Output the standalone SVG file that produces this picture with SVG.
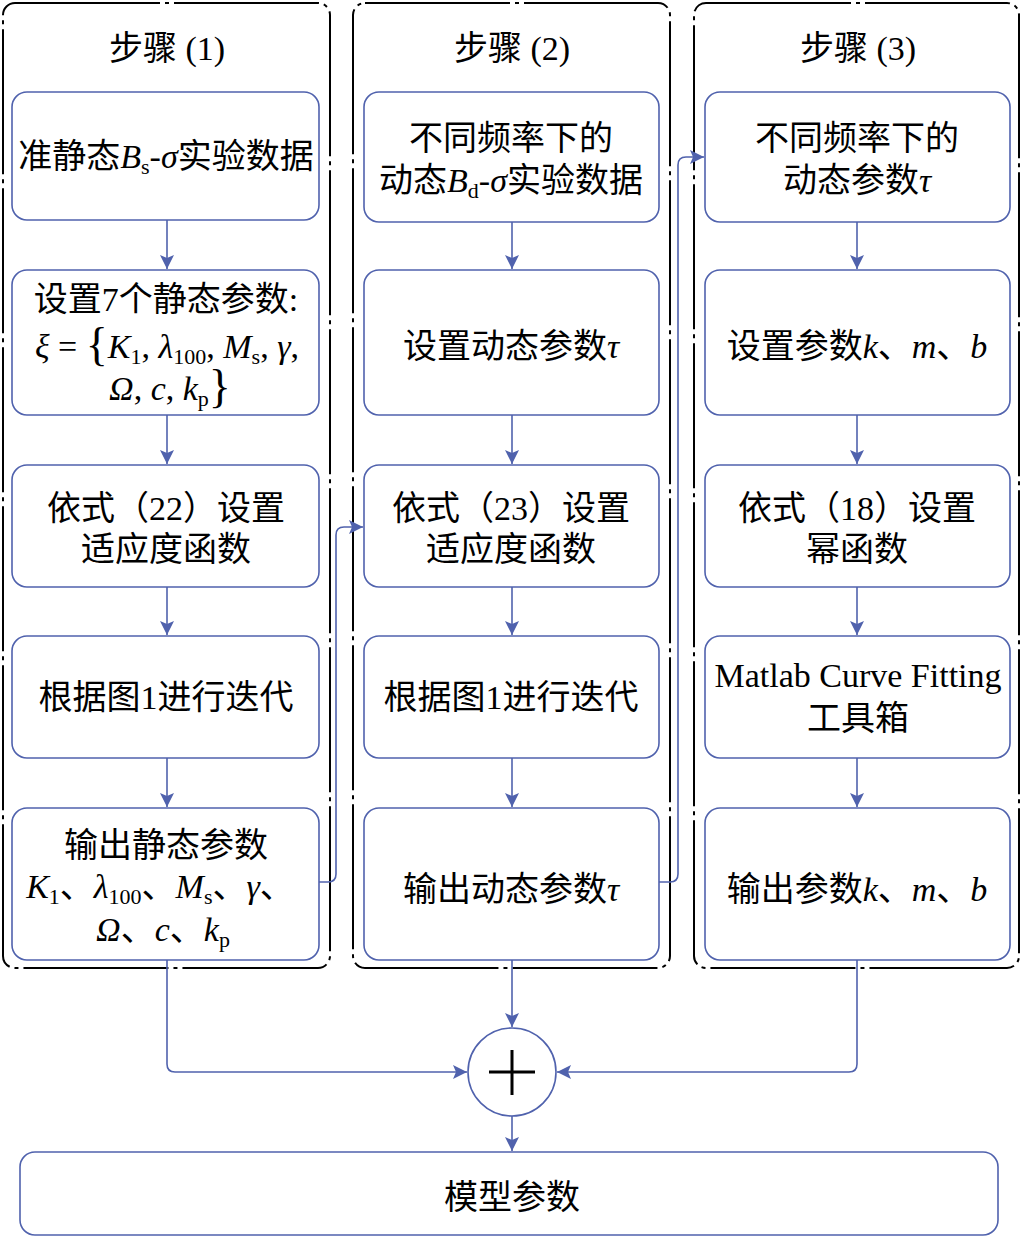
<svg xmlns="http://www.w3.org/2000/svg" width="1023" height="1239" viewBox="0 0 1023 1239">
<style>
.grp{fill:none;stroke:#000;stroke-width:2;stroke-dasharray:145 5 4 5}
.node{fill:#fff;stroke:#5062ad;stroke-width:1.6}
.conn{fill:none;stroke:#5062ad;stroke-width:1.6}
.t{font-family:"Liberation Serif","Noto Sans CJK SC",serif;font-size:34px;text-anchor:middle;fill:#000}
.i{font-style:italic}
.s{font-size:22px}
.b{font-size:46px}
</style>
<defs>
<marker id="ah" markerUnits="userSpaceOnUse" markerWidth="16" markerHeight="16" refX="14" refY="7" orient="auto">
<path d="M0,0 L14,7 L0,14 L3,7 z" fill="#5062ad"/>
</marker>
</defs>
<rect width="1023" height="1239" fill="#fff"/>

<g id="group1"><rect class="grp" x="3" y="3" width="327" height="965" rx="12"/><text class="t" x="167" y="60">步骤 (1)</text></g>
<g id="group2"><rect class="grp" x="353" y="3" width="317" height="965" rx="12"/><text class="t" x="512" y="60">步骤 (2)</text></g>
<g id="group3"><rect class="grp" x="694" y="3" width="325" height="965" rx="12"/><text class="t" x="858" y="60">步骤 (3)</text></g>

<g id="connectors">
<path class="conn" d="M167,220 V269" marker-end="url(#ah)"/>
<path class="conn" d="M167,415 V464" marker-end="url(#ah)"/>
<path class="conn" d="M167,587 V635" marker-end="url(#ah)"/>
<path class="conn" d="M167,758 V807" marker-end="url(#ah)"/>
<path class="conn" d="M512,222 V269" marker-end="url(#ah)"/>
<path class="conn" d="M512,415 V464" marker-end="url(#ah)"/>
<path class="conn" d="M512,587 V635" marker-end="url(#ah)"/>
<path class="conn" d="M512,758 V807" marker-end="url(#ah)"/>
<path class="conn" d="M857,222 V269" marker-end="url(#ah)"/>
<path class="conn" d="M857,415 V464" marker-end="url(#ah)"/>
<path class="conn" d="M857,587 V635" marker-end="url(#ah)"/>
<path class="conn" d="M857,758 V807" marker-end="url(#ah)"/>
<path class="conn" d="M319,882 H328 Q336,882 336,874 V535 Q336,527 344,527 H363" marker-end="url(#ah)"/>
<path class="conn" d="M659,882 H670 Q678,882 678,874 V165 Q678,157 686,157 H704" marker-end="url(#ah)"/>
<path class="conn" d="M167,960 V1064 Q167,1072 175,1072 H467" marker-end="url(#ah)"/>
<path class="conn" d="M512,960 V1027" marker-end="url(#ah)"/>
<path class="conn" d="M857,960 V1064 Q857,1072 849,1072 H557" marker-end="url(#ah)"/>
<path class="conn" d="M512,1116 V1151" marker-end="url(#ah)"/>
</g>

<g id="n1_1"><rect class="node" x="12" y="92" width="307" height="128" rx="15"/>
<text class="t" x="166" y="168">准静态<tspan class="i">B</tspan><tspan class="s" dy="6">s</tspan><tspan dy="-6">-</tspan><tspan class="i">σ</tspan>实验数据</text></g>
<g id="n1_2"><rect class="node" x="12" y="270" width="307" height="145" rx="15"/>
<text class="t" x="166" y="311">设置7个静态参数:</text>
<text class="t" x="167" y="358"><tspan class="i">ξ</tspan> = <tspan class="b" dy="2">{</tspan><tspan class="i" dy="-2">K</tspan><tspan class="s" dy="6">1</tspan><tspan dy="-6">, </tspan><tspan class="i">λ</tspan><tspan class="s" dy="6">100</tspan><tspan dy="-6">, </tspan><tspan class="i">M</tspan><tspan class="s" dy="6">s</tspan><tspan dy="-6">, </tspan><tspan class="i">γ</tspan>,</text>
<text class="t" x="170" y="400"><tspan class="i">Ω</tspan>, <tspan class="i">c</tspan>, <tspan class="i">k</tspan><tspan class="s" dy="6">p</tspan><tspan class="b" dy="-4">}</tspan></text></g>
<g id="n1_3"><rect class="node" x="12" y="465" width="307" height="122" rx="15"/>
<text class="t" x="166" y="520">依式（22）设置</text><text class="t" x="166" y="561">适应度函数</text></g>
<g id="n1_4"><rect class="node" x="12" y="636" width="307" height="122" rx="15"/>
<text class="t" x="166" y="709">根据图1进行迭代</text></g>
<g id="n1_5"><rect class="node" x="12" y="808" width="307" height="152" rx="15"/>
<text class="t" x="166" y="857">输出静态参数</text>
<text class="t" x="160" y="898"><tspan class="i">K</tspan><tspan class="s" dy="6">1</tspan><tspan dy="-6">、</tspan><tspan class="i">λ</tspan><tspan class="s" dy="6">100</tspan><tspan dy="-6">、</tspan><tspan class="i">M</tspan><tspan class="s" dy="6">s</tspan><tspan dy="-6">、</tspan><tspan class="i">γ</tspan>、</text>
<text class="t" x="163" y="941"><tspan class="i">Ω</tspan>、<tspan class="i">c</tspan>、<tspan class="i">k</tspan><tspan class="s" dy="6">p</tspan></text></g>

<g id="n2_1"><rect class="node" x="364" y="92" width="295" height="130" rx="15"/>
<text class="t" x="511" y="150">不同频率下的</text>
<text class="t" x="511" y="192">动态<tspan class="i">B</tspan><tspan class="s" dy="6">d</tspan><tspan dy="-6">-</tspan><tspan class="i">σ</tspan>实验数据</text></g>
<g id="n2_2"><rect class="node" x="364" y="270" width="295" height="145" rx="15"/>
<text class="t" x="511" y="358">设置动态参数<tspan class="i">τ</tspan></text></g>
<g id="n2_3"><rect class="node" x="364" y="465" width="295" height="122" rx="15"/>
<text class="t" x="511" y="520">依式（23）设置</text><text class="t" x="511" y="561">适应度函数</text></g>
<g id="n2_4"><rect class="node" x="364" y="636" width="295" height="122" rx="15"/>
<text class="t" x="511" y="709">根据图1进行迭代</text></g>
<g id="n2_5"><rect class="node" x="364" y="808" width="295" height="152" rx="15"/>
<text class="t" x="511" y="901">输出动态参数<tspan class="i">τ</tspan></text></g>

<g id="n3_1"><rect class="node" x="705" y="92" width="305" height="130" rx="15"/>
<text class="t" x="857" y="150">不同频率下的</text>
<text class="t" x="857" y="192">动态参数<tspan class="i">τ</tspan></text></g>
<g id="n3_2"><rect class="node" x="705" y="270" width="305" height="145" rx="15"/>
<text class="t" x="857" y="358">设置参数<tspan class="i">k</tspan>、<tspan class="i">m</tspan>、<tspan class="i">b</tspan></text></g>
<g id="n3_3"><rect class="node" x="705" y="465" width="305" height="122" rx="15"/>
<text class="t" x="857" y="520">依式（18）设置</text><text class="t" x="857" y="561">幂函数</text></g>
<g id="n3_4"><rect class="node" x="705" y="636" width="305" height="122" rx="15"/>
<text class="t" x="858" y="687">Matlab Curve Fitting</text><text class="t" x="858" y="730">工具箱</text></g>
<g id="n3_5"><rect class="node" x="705" y="808" width="305" height="152" rx="15"/>
<text class="t" x="857" y="901">输出参数<tspan class="i">k</tspan>、<tspan class="i">m</tspan>、<tspan class="i">b</tspan></text></g>

<g id="sum"><circle cx="512" cy="1072" r="44" fill="#fff" stroke="#5062ad" stroke-width="1.6"/>
<path d="M489,1072 H535 M512,1050 V1095" stroke="#000" stroke-width="3" fill="none"/></g>

<g id="result"><rect class="node" x="20" y="1152" width="978" height="83" rx="15"/>
<text class="t" x="512" y="1209">模型参数</text></g>
</svg>
